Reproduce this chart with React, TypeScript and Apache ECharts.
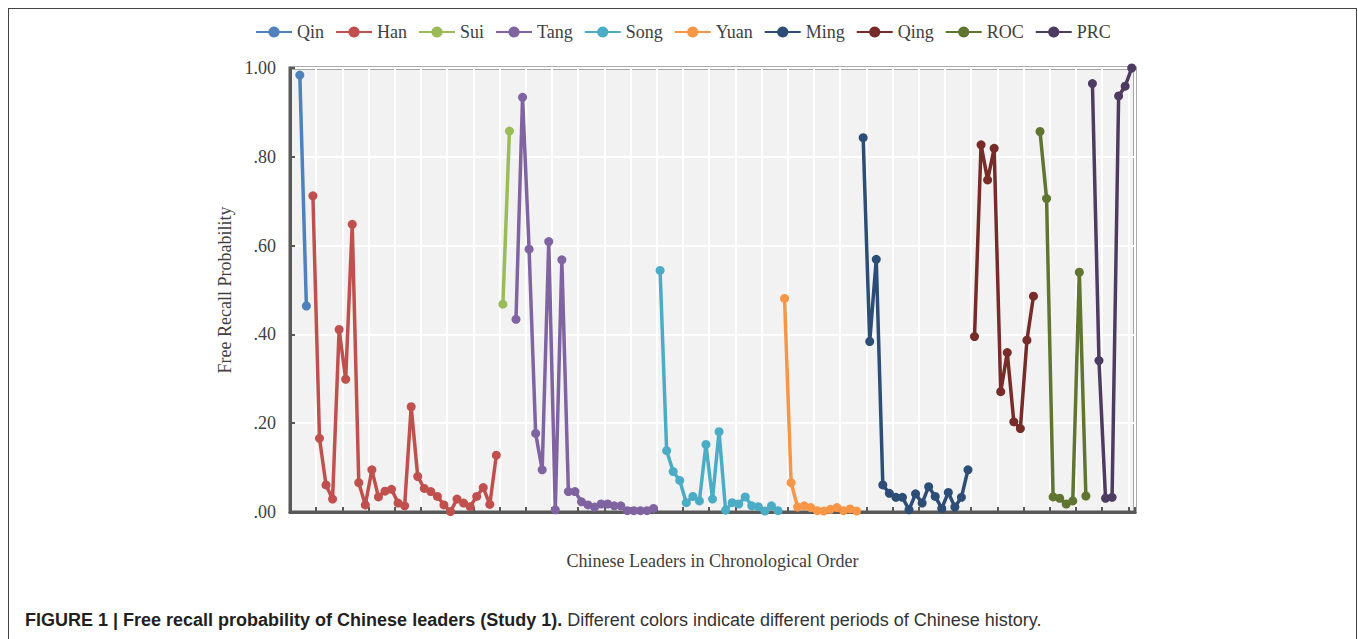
import React, { useEffect, useRef } from "react";
import * as echarts from "echarts";

const seriesNames = ["Qin", "Han", "Sui", "Tang", "Song", "Yuan", "Ming", "Qing", "ROC", "PRC"];
const seriesColors = ["#4F81BD", "#C0504D", "#9BBB59", "#8064A2", "#4BACC6", "#F79646", "#2C4D75", "#772C2A", "#5F7530", "#4D3B62"];
// index of first leader of each period on the chronological axis
const seriesStart = [1, 3, 32, 34, 56, 75, 87, 104, 114, 122];

const qin = [0.984, 0.464];
const han = [0.712, 0.166, 0.061, 0.029, 0.411, 0.299, 0.648, 0.066, 0.016, 0.095, 0.034, 0.047, 0.051, 0.020, 0.014, 0.237, 0.080, 0.053, 0.046, 0.035, 0.016, 0.001, 0.029, 0.020, 0.012, 0.035, 0.055, 0.017, 0.128];
const sui = [0.468, 0.858];
const tang = [0.434, 0.934, 0.592, 0.177, 0.095, 0.609, 0.005, 0.568, 0.046, 0.046, 0.023, 0.016, 0.011, 0.018, 0.018, 0.014, 0.014, 0.003, 0.003, 0.003, 0.003, 0.008];
const song = [0.544, 0.138, 0.091, 0.071, 0.021, 0.035, 0.025, 0.152, 0.029, 0.181, 0.004, 0.021, 0.018, 0.034, 0.014, 0.012, 0.002, 0.014, 0.003];
const yuan = [0.481, 0.066, 0.011, 0.014, 0.010, 0.003, 0.002, 0.006, 0.010, 0.003, 0.007, 0.002];
const ming = [0.843, 0.384, 0.569, 0.061, 0.042, 0.033, 0.033, 0.005, 0.041, 0.020, 0.057, 0.035, 0.008, 0.044, 0.011, 0.033, 0.095];
const qing = [0.395, 0.827, 0.748, 0.819, 0.271, 0.359, 0.203, 0.188, 0.387, 0.486];
const roc = [0.857, 0.706, 0.034, 0.031, 0.018, 0.025, 0.540, 0.036];
const prc = [0.965, 0.341, 0.031, 0.033, 0.937, 0.959, 1.0];

const seriesValues = [qin, han, sui, tang, song, yuan, ming, qing, roc, prc];
const categoryCount = 129;
const categories = Array.from({ length: categoryCount }, (_, i) => String(i));
const yTicks = [0, 0.2, 0.4, 0.6, 0.8, 1.0];

const serif = "'Liberation Serif', 'Times New Roman', serif";
const sans = "'Liberation Sans', Arial, sans-serif";

export default function App() {
  const ref = useRef<HTMLDivElement>(null);
  useEffect(() => {
    if (!ref.current) return;
    const chart = echarts.init(ref.current, null, { renderer: "svg" });
    const series = seriesNames.map((name, si) => {
      const data: (number | null)[] = new Array(categoryCount).fill(null);
      seriesValues[si].forEach((v, j) => {
        data[seriesStart[si] + j] = v;
      });
      return {
        name,
        type: "line",
        data,
        symbol: "circle",
        symbolSize: 9,
        showSymbol: true,
        showAllSymbol: true,
        connectNulls: false,
        itemStyle: { color: seriesColors[si] },
        lineStyle: { color: seriesColors[si], width: 3.5 },
        emphasis: { disabled: true },
      };
    });
    chart.setOption({
      animation: false,
      color: seriesColors,
      legend: {
        data: seriesNames,
        top: 10,
        left: 242,
        itemWidth: 36,
        itemHeight: 14,
        itemGap: 11,
        textStyle: { fontFamily: serif, fontSize: 18, color: "#404040" },
      },
      grid: {
        left: 282,
        top: 60,
        width: 845,
        height: 444,
        show: true,
        backgroundColor: "#f2f2f2",
        borderColor: "#595959",
        borderWidth: 3,
      },
      xAxis: {
        type: "category",
        data: categories,
        boundaryGap: true,
        name: "Chinese Leaders in Chronological Order",
        nameLocation: "middle",
        nameGap: 40,
        nameTextStyle: { fontFamily: serif, fontSize: 18, color: "#404040" },
        axisLine: { show: true, lineStyle: { color: "#595959", width: 3 } },
        axisTick: { show: true, inside: true, interval: 3, length: 5, lineStyle: { color: "#595959", width: 2 } },
        axisLabel: { show: false, interval: 3 },
        splitLine: { show: true, interval: 3, lineStyle: { color: "#ffffff", width: 2 } },
      },
      yAxis: {
        type: "value",
        min: yTicks[0],
        max: yTicks[yTicks.length - 1],
        interval: 0.2,
        name: "Free Recall Probability",
        nameLocation: "middle",
        nameGap: 52,
        nameTextStyle: { fontFamily: serif, fontSize: 18, color: "#404040" },
        axisLine: { show: true, lineStyle: { color: "#595959", width: 3 } },
        axisTick: { show: true, inside: true, length: 5, lineStyle: { color: "#595959", width: 2 } },
        axisLabel: {
          fontFamily: serif,
          fontSize: 18,
          color: "#404040",
          margin: 14,
          formatter: (v: number) => v.toFixed(2).replace(/^0/, ""),
        },
        splitLine: { show: true, lineStyle: { color: "#ffffff", width: 2 } },
      },
      graphic: [
        {
          type: "text",
          left: 17,
          top: 603,
          style: {
            text: "{b|FIGURE 1 | Free recall probability of Chinese leaders (Study 1).}{r| Different colors indicate different periods of Chinese history.}",
            rich: {
              b: { fontFamily: sans, fontSize: 18, fontWeight: "bold", fill: "#231f20" },
              r: { fontFamily: sans, fontSize: 18, fill: "#333333" },
            },
          },
        },
      ],
      series,
    });
    return () => chart.dispose();
  }, []);
  return (
    <div>
      <div ref={ref} style={{ width: 1342, height: 631 }} />
      <div
        style={{
          position: "fixed",
          left: 8,
          top: 8,
          width: 1349,
          height: 700,
          boxSizing: "border-box",
          border: "1.5px solid #444",
          pointerEvents: "none",
        }}
      />
    </div>
  );
}
